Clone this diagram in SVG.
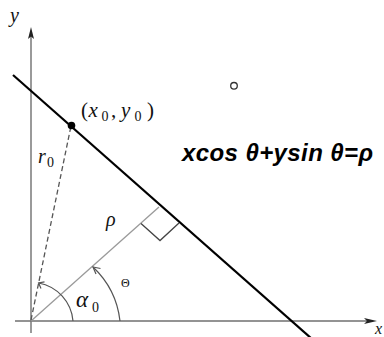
<svg xmlns="http://www.w3.org/2000/svg" width="384" height="337" viewBox="0 0 384 337">
<style>
.m{font-family:"Liberation Serif","DejaVu Serif",serif;font-style:italic;fill:#111}
.sub{font-family:"Liberation Serif","DejaVu Serif",serif;font-size:14px;fill:#111}
.eq{font-family:"Liberation Sans",Arial,sans-serif;font-style:italic;font-weight:bold;font-size:24px;fill:#000}
.axis{stroke:#6f6f6f;stroke-width:1.4;fill:none}
.arc{stroke:#555;stroke-width:1.2;fill:none}
</style>
<rect width="384" height="337" fill="#fff"/>
<g id="axes">
<line class="axis" x1="31" y1="333" x2="31" y2="34"/>
<polygon points="31,27 34,39 31,36.5 28,39" fill="#222"/>
<line class="axis" x1="15" y1="321" x2="370" y2="321"/>
<polygon points="377,321 364,318 367,321 364,324" fill="#222"/>
</g>
<g id="connectors">
<line id="line" x1="13" y1="75" x2="312" y2="339" stroke="#000" stroke-width="2.2"/>
<line id="rho-line" x1="31" y1="321" x2="159" y2="207" stroke="#9a9a9a" stroke-width="1.3"/>
<line id="r0-line" x1="31" y1="320" x2="71" y2="126" stroke="#555" stroke-width="1.3" stroke-dasharray="5,3"/>
<polyline id="right-angle" points="141,223.5 160,240.5 179,223" fill="none" stroke="#444" stroke-width="1.3"/>
<path class="arc" d="M73 321 A42 42 0 0 0 38.6 283"/>
<polyline class="arc" points="44.5,281.8 38.6,283 41,288.6"/>
<path class="arc" d="M120 321 A88 88 0 0 0 93 267"/>
<polyline class="arc" points="100.5,268.5 93,267 96,274"/>
</g>
<g id="point">
<circle cx="71.5" cy="125.5" r="3.8" fill="#000"/>
</g>
<circle cx="234" cy="85.8" r="3.3" fill="none" stroke="#333" stroke-width="1.3"/>
<g id="labels">
<text class="m" x="10" y="22" font-size="20">y</text>
<text class="m" x="375" y="334" font-size="16">x</text>
<text class="m" font-size="21" y="117"><tspan x="81" font-style="normal">(</tspan><tspan x="88.5">x</tspan><tspan x="101.5" y="121" class="sub" font-style="normal">0</tspan><tspan x="111" y="117" font-style="normal">,</tspan><tspan x="121">y</tspan><tspan x="134.5" y="121" class="sub" font-style="normal">0</tspan><tspan x="147" y="117" font-style="normal">)</tspan></text>
<text class="m" font-size="20" y="163"><tspan x="38">r</tspan><tspan x="47" y="167" class="sub" font-style="normal">0</tspan></text>
<text class="m" x="106" y="226" font-size="20">ρ</text>
<text class="m" font-size="23" y="307"><tspan x="76">α</tspan><tspan x="92" y="312" class="sub" font-size="15" font-style="normal">0</tspan></text>
<text x="121" y="287" font-family="Liberation Serif,serif" font-size="12" fill="#111">Θ</text>
<text class="eq" x="182" y="161" textLength="191" lengthAdjust="spacing">xcos θ+ysin θ=ρ</text>
</g>
</svg>
